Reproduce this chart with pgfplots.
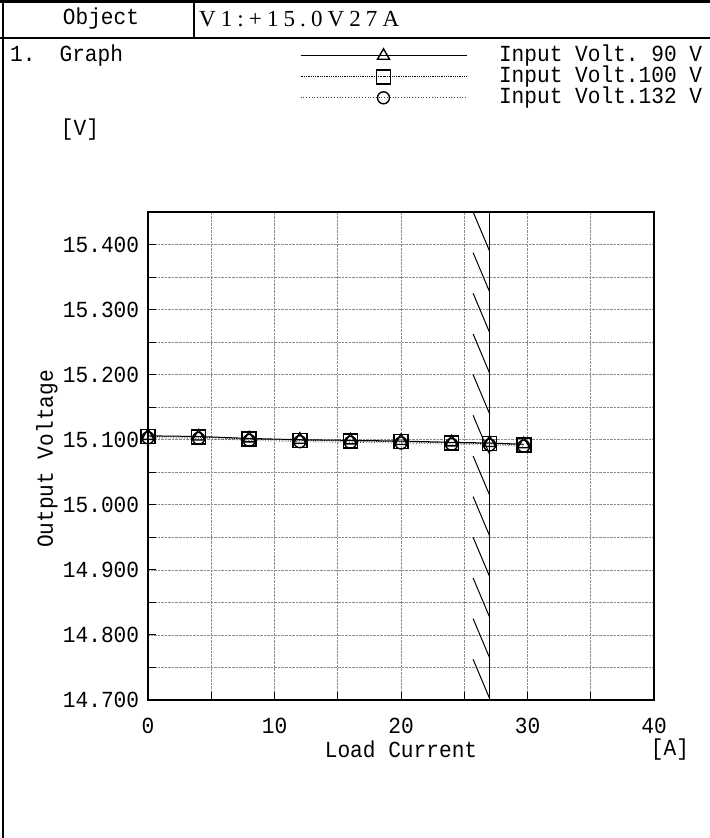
\documentclass[border=0pt]{standalone}
\usepackage{fontspec}
\setmainfont[FakeStretch=0.92]{Liberation Mono}
\newfontfamily\serifhead{Liberation Serif}
\usepackage{pgfplots}
\pgfplotsset{compat=1.18}
\pgfplotstableread{
x      a       b       c
0      15.106  15.105  15.103
4      15.105  15.104  15.102
8      15.102  15.101  15.099
12     15.100  15.099  15.097
16     15.099  15.098  15.096
20     15.098  15.097  15.095
24     15.096  15.095  15.093
27     15.095  15.094  15.092
29.7   15.093  15.092  15.090
}\datatable
\begin{document}
\fontsize{23bp}{25bp}\selectfont
\begin{tikzpicture}[x=1bp,y=1bp]
\useasboundingbox (0,0) rectangle (710,838);
% form frame
\draw[line width=2.5bp] (0,836.5) -- (710,836.5);
\draw[line width=2.5bp] (3,0) -- (3,838);
\draw[line width=1.5bp] (194,838) -- (194,800);
\draw[line width=1.5bp] (0,800) -- (710,800);
\node at (101,819) {Object};
\node[anchor=west, inner sep=0pt] at (199,819) {\serifhead\fontsize{23bp}{25bp}\selectfont\makebox[200bp][s]{V\hfill1\hfill:\hfill+\hfill1\hfill5\hfill.\hfill0\hfill V\hfill2\hfill7\hfill A}};
\node[anchor=west, inner sep=0pt] at (10,782) {1.\hspace{24bp}Graph};
\node at (80,708) {[V]};
\node[rotate=90] at (47,379) {Output Voltage};
\node at (670,88) {[A]};
\begin{axis}[
  at={(148bp,138bp)}, anchor=south west,
  scale only axis, width=506bp, height=488bp,
  xmin=0, xmax=40, ymin=14.7, ymax=15.45,
  xtick={0,10,20,30,40}, xticklabels={0,10,20,30,40},
  minor xtick={5,15,25,35},
  ytick={14.7,14.8,14.9,15.0,15.1,15.2,15.3,15.4},
  yticklabels={14.700,14.800,14.900,15.000,15.100,15.200,15.300,15.400},
  minor ytick={14.75,14.85,14.95,15.05,15.15,15.25,15.35,15.45},
  grid=both,
  major grid style={densely dotted, black!45, line width=0.6bp},
  minor grid style={densely dotted, black!45, line width=0.6bp},
  tick align=inside, xtick pos=bottom, ytick pos=left,
  major tick length=8bp, minor tick length=8bp,
  every tick/.style={black, line width=1bp},
  axis line style={line width=2bp},
  xticklabel style={yshift=-10bp},
  yticklabel style={xshift=-1bp},
  xlabel={Load Current},
  xlabel style={at={(axis description cs:0.5,0)}, anchor=center, yshift=-49bp},
  unbounded coords=jump,
  legend style={at={(axis description cs:0.3,1.342)}, anchor=north west,
    draw=none, fill=none, inner sep=0pt, row sep=0bp,
    nodes={inner xsep=2bp, inner ysep=2bp, text height=14bp, text depth=3bp},
    cells={anchor=west}},
  legend image code/.code={\draw[mark repeat=2,mark phase=2,#1] plot coordinates {(0bp,0bp) (83bp,0bp) (166bp,0bp)};},
  legend cell align=left,
]
\addplot[black, line width=1bp, mark=triangle, mark size=7bp, mark options={solid, line width=1.4bp}] table[x=x,y=a] {\datatable};
\addlegendentry{\hspace{30bp}Input Volt.~90 V}
\addplot[black, densely dotted, line width=0.8bp, mark=square, mark size=7bp, mark options={solid, line width=1.6bp}] table[x=x,y=b] {\datatable};
\addlegendentry{\hspace{30bp}Input Volt.100 V}
\addplot[black!70, dotted, line width=0.8bp, mark=o, mark size=6bp, mark options={solid, black, line width=1.4bp}] table[x=x,y=c] {\datatable};
\addlegendentry{\hspace{30bp}Input Volt.132 V}
% derating boundary at 27 A with hatching
\addplot[black, line width=1bp, forget plot] coordinates {(27,14.7) (27,15.45)};
\addplot[black, line width=1bp, forget plot] coordinates {
(25.7,15.45) (27,15.39) (27,nan)
(25.7,15.3875) (27,15.3275) (27,nan)
(25.7,15.325) (27,15.265) (27,nan)
(25.7,15.2625) (27,15.2025) (27,nan)
(25.7,15.2) (27,15.14) (27,nan)
(25.7,15.1375) (27,15.0775) (27,nan)
(25.7,15.075) (27,15.015) (27,nan)
(25.7,15.0125) (27,14.9525) (27,nan)
(25.7,14.95) (27,14.89) (27,nan)
(25.7,14.8875) (27,14.8275) (27,nan)
(25.7,14.825) (27,14.765) (27,nan)
(25.7,14.7625) (27,14.7025)
};
\end{axis}
\end{tikzpicture}
\end{document}
